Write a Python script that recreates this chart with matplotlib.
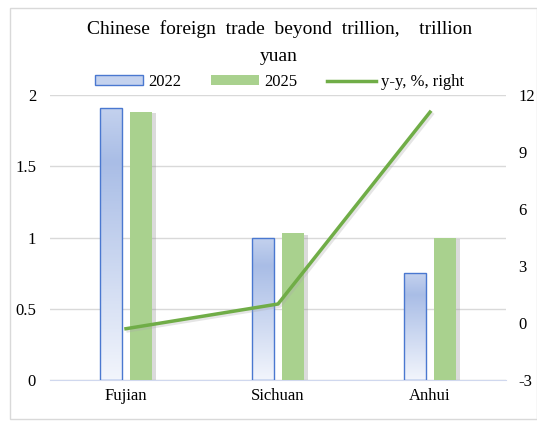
import matplotlib
matplotlib.use("Agg")
import matplotlib.pyplot as plt
import numpy as np
from matplotlib.colors import LinearSegmentedColormap
from matplotlib.patches import Rectangle
from matplotlib.lines import Line2D
import matplotlib.patheffects as pe

categories = ["Fujian", "Sichuan", "Anhui"]
v2022 = [1.91, 1.0, 0.75]
v2025 = [1.88, 1.03, 1.0]
yoy = [-0.3, 1.0, 11.1]
title = "Chinese  foreign  trade  beyond  trillion,    trillion\nyuan"
left_ticks = [0, 0.5, 1, 1.5, 2]
right_ticks = [-3, 0, 3, 6, 9, 12]

plt.rcParams['font.family'] = ['Liberation Serif', 'DejaVu Serif']
plt.rcParams['axes.unicode_minus'] = False
fig = plt.figure(figsize=(5.37, 4.21), dpi=100)
fig.patches.append(Rectangle((10/537, 0.005), 1 - 10/537, 1 - 8/421 - 0.005, transform=fig.transFigure,
                             fill=False, edgecolor='#d9d9d9', lw=1))
ax = fig.add_axes([50/537, 1 - 380/421, 456/537, 285/421])
x = np.arange(len(categories))
w = 0.145
off = 0.1

grad = LinearSegmentedColormap.from_list('g', ['#f2f5fc', '#a9bde6', '#c4d2ee'])
bars1 = ax.bar(x - off, v2022, w, facecolor='none', edgecolor='#4a78d0', lw=1, zorder=3)
for b in bars1:
    bx, by = b.get_x(), b.get_y()
    bw, bh = b.get_width(), b.get_height()
    img = np.linspace(0, 1, 256).reshape(-1, 1)
    vals = np.where(img < 0.8, img / 0.8 * 0.5, 0.5 + (img - 0.8) / 0.2 * 0.5)
    im = ax.imshow(vals, cmap=grad, vmin=0, vmax=1, aspect='auto', origin='lower',
                   extent=[bx, bx + bw, by, by + bh], zorder=2)
    im.set_clip_path(b)
bars2 = ax.bar(x + off, v2025, w, color='#a9d18e', zorder=3,
               path_effects=[pe.SimplePatchShadow(offset=(3, -1), shadow_rgbFace='#999999', alpha=0.35), pe.Normal()])

ax.set_xlim(-0.5, 2.5)
ax.set_ylim(0, 2)
ax.set_yticks(left_ticks)
ax.set_yticklabels([f"{t:g}" for t in left_ticks])
ax.set_xticks(x)
ax.set_xticklabels(categories)
ax.grid(axis='y', color='#d9d9d9', lw=1, zorder=0)
for s in ['top', 'right', 'left']:
    ax.spines[s].set_visible(False)
ax.spines['bottom'].set_color('#d0d8ee')
ax.tick_params(axis='both', length=0, labelsize=12, pad=10)
ax.tick_params(axis='x', pad=6)

ax2 = ax.twinx()
ax2.plot(x, yoy, color='#70ad47', lw=2.5, zorder=5,
         path_effects=[pe.SimpleLineShadow(offset=(1.5, -1.5), shadow_color='#aaaaaa', alpha=0.3), pe.Normal()])
ax2.set_ylim(-3, 12)
ax2.set_yticks(right_ticks)
for s in ['top', 'right', 'left', 'bottom']:
    ax2.spines[s].set_visible(False)
ax2.tick_params(axis='y', length=0, labelsize=12, pad=9)

fig.text(0.52, 1 - 20/421, title, ha='center', va='top', fontsize=14, linespacing=1.75)

handles = [Rectangle((0, 0), 1, 1, facecolor='#c4d2ee', edgecolor='#4a78d0'),
           Rectangle((0, 0), 1, 1, facecolor='#a9d18e', edgecolor='none'),
           Line2D([0], [0], color='#70ad47', lw=2.5)]
fig.legend(handles, ["2022", "2025", "y-y, %, right"], loc='center', bbox_to_anchor=(0.52, 1 - 82/421),
           ncol=3, frameon=False, fontsize=12, handlelength=2.9, handleheight=0.55, columnspacing=1.8,
           handletextpad=0.3)

fig.savefig("out.png", dpi=100)
